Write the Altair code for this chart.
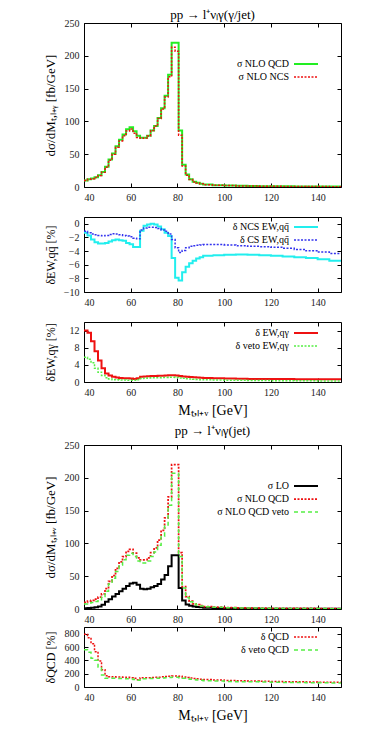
import altair as alt
import pandas as pd

SERIF = "Liberation Serif"

# bin edges in GeV (M_T)
edges = [40, 41.5, 43, 44.5, 46, 47.5, 49, 50.5, 52, 53.5, 55, 56.5, 58, 59.5, 61, 62.5,
         64, 65.5, 67, 68.5, 70, 71.5, 73, 74.5, 76, 77.5, 79, 80.5, 82, 83.5, 85, 86.5,
         88, 89.5, 91, 95, 100, 105, 110, 115, 120, 125, 130, 135, 140, 145, 150]

# panel 1 / panel 4 : cross sections [fb/GeV]
nlo_qcd = [10, 12, 13, 15, 18, 23, 31, 42, 51, 62, 72, 80, 88, 91, 85, 78, 75, 75, 78, 86,
           93, 105, 120, 139, 171, 220, 220, 86, 34, 19, 12, 8, 6.5, 5, 3.8, 2.8, 2.2, 1.8,
           1.5, 1.3, 1.1, 1.0, 0.9, 0.8, 0.7, 0.6]
nlo_ncs = [9.9, 11.8, 12.7, 14.6, 17.5, 22.3, 30.1, 40.9, 49.8, 60.6, 70.3, 78.0, 85.5, 88.3,
           82.1, 75.3, 74.3, 74.8, 77.9, 86.0, 92.9, 104.6, 119.0, 137.2, 167.9, 213, 207, 79,
           32, 18, 11.3, 7.6, 6.2, 4.8, 3.6, 2.7, 2.1, 1.7, 1.4, 1.2, 1.05, 0.95, 0.85, 0.76,
           0.66, 0.57]
lo = [1.1, 1.5, 1.8, 2.5, 3.8, 6.5, 11, 15, 19, 23, 27, 31, 35, 39, 40, 37, 31, 30, 31, 33,
      35, 38, 45, 52, 65, 82, 82, 32, 13, 7, 5, 3.8, 3.2, 2.6, 2.0, 1.4, 1.0, 0.8, 0.6, 0.5,
      0.4, 0.35, 0.3, 0.25, 0.2, 0.2]
nlo_qcd_veto = [7.5, 9, 10, 11.5, 14, 19, 27, 38, 47, 57, 67, 75, 82, 85, 80, 73, 70, 70, 73,
                80, 87, 97, 111, 128, 158, 207, 207, 80, 32, 17.5, 11, 7.5, 6, 4.6, 3.5, 2.6,
                2.0, 1.6, 1.35, 1.15, 1.0, 0.9, 0.8, 0.7, 0.62, 0.55]

# panel 2 : delta_EW,qqbar [%]
d_ncs = [-1.3, -1.7, -2.3, -2.7, -2.9, -2.9, -2.8, -2.6, -2.4, -2.3, -2.4, -2.5, -2.8, -3.0,
         -3.4, -3.4, -1.0, -0.3, -0.1, 0.0, -0.1, -0.4, -0.8, -1.3, -1.8, -5.0, -7.9, -8.3,
         -7.1, -6.3, -5.8, -5.4, -5.1, -4.9, -4.7, -4.6, -4.55, -4.5, -4.55, -4.6, -4.7, -4.8,
         -4.9, -5.0, -5.2, -5.4]
d_cs = [-1.1, -1.3, -1.5, -1.6, -1.7, -1.75, -1.7, -1.55, -1.45, -1.5, -1.6, -1.7, -1.8, -1.9,
        -2.1, -2.2, -0.9, -0.6, -0.5, -0.5, -0.55, -0.7, -0.9, -1.1, -1.5, -2.3, -3.5, -4.2,
        -3.9, -3.5, -3.3, -3.2, -3.15, -3.1, -3.05, -3.05, -3.1, -3.2, -3.3, -3.35, -3.45,
        -3.6, -3.75, -3.95, -4.15, -4.35]

# panel 3 : delta_EW,q gamma [%]
d_qg = [12.0, 11.5, 9.5, 7.2, 5.0, 3.2, 2.0, 1.5, 1.2, 1.05, 0.95, 0.9, 0.85, 0.8, 0.7, 0.9,
        1.2, 1.3, 1.35, 1.4, 1.4, 1.45, 1.45, 1.5, 1.55, 1.55, 1.5, 1.4, 1.3, 1.2, 1.15, 1.1,
        1.05, 1.0, 0.95, 0.85, 0.8, 0.75, 0.72, 0.7, 0.7, 0.68, 0.67, 0.66, 0.65, 0.65]
d_qg_veto = [5.8, 5.3, 4.5, 3.2, 2.3, 1.5, 1.0, 0.7, 0.55, 0.5, 0.45, 0.45, 0.4, 0.4, 0.4,
             0.55, 0.8, 0.9, 0.95, 1.0, 1.0, 1.0, 1.05, 1.05, 1.1, 1.1, 1.05, 0.95, 0.85,
             0.75, 0.7, 0.65, 0.6, 0.55, 0.5, 0.45, 0.4, 0.38, 0.35, 0.33, 0.3, 0.3, 0.28,
             0.27, 0.26, 0.25]

# panel 5 : delta_QCD [%]
d_qcd = [790, 740, 650, 530, 390, 260, 170, 155, 152, 150, 150, 148, 145, 140, 130, 110, 140,
         140, 140, 142, 145, 148, 152, 157, 162, 165, 165, 160, 150, 142, 135, 128, 122, 118,
         112, 105, 98, 93, 89, 86, 83, 80, 77, 75, 72, 70]
d_qcd_veto = [560, 520, 430, 400, 300, 180, 130, 130, 130, 128, 127, 125, 123, 120, 112, 100,
              125, 125, 126, 128, 130, 133, 136, 140, 144, 147, 147, 140, 130, 122, 115, 110,
              105, 100, 95, 90, 84, 80, 77, 74, 72, 69, 67, 65, 62, 60]

x_ticks = [40, 60, 80, 100, 120, 140]
title_top = "pp → l⁺νₗγ(γ/jet)"
title_bottom = "pp → l⁺νₗγ(jet)"
x_title = "Mₜ,ₗ₊ᵥ [GeV]"


def make_df(series_list):
    rows = []
    for name, vals in series_list:
        for i, v in enumerate(vals):
            rows.append({"x": edges[i], "y": v, "series": name})
        rows.append({"x": edges[-1], "y": vals[-1], "series": name})
    return pd.DataFrame(rows)


def panel(series_list, colors, dashes, widths, ydom, yticks, ytitle, height,
          legend_y, ytitle_size=13, xtitle=None, title=None, title_offset=-4):
    df = make_df(series_list)
    names = [s[0] for s in series_list]
    xscale = alt.Scale(domain=[40, 150], nice=False, zero=False)
    yscale = alt.Scale(domain=ydom, nice=False, zero=False)
    xk = dict(values=x_ticks, offset=-4, tickSize=4, domain=False, labelPadding=5,
              grid=False, labelFont=SERIF, labelFontSize=10, labelColor="#222",
              tickColor="black")
    if xtitle:
        xaxis = alt.Axis(title=xtitle, titlePadding=6, titleFont=SERIF, titleFontSize=14,
                         titleFontWeight="normal", titleColor="black", **xk)
    else:
        xaxis = alt.Axis(title=None, **xk)
    yaxis = alt.Axis(values=yticks, offset=-4, tickSize=4, domain=False, labelPadding=5,
                     grid=False, labelFont=SERIF, labelFontSize=10, labelColor="#222",
                     tickColor="black", minExtent=30, maxExtent=30, title=ytitle,
                     titlePadding=1, titleFont=SERIF, titleFontSize=ytitle_size,
                     titleFontWeight="normal", titleColor="black")
    # gnuplot-like key: label on the left, line sample drawn to its right
    leg = alt.Legend(title=None, orient="none", legendX=191, legendY=legend_y,
                     symbolType="M2,0H6", symbolSize=144, labelOffset=0,
                     labelAlign="right", labelFont=SERIF, labelFontSize=10,
                     labelColor="black", rowPadding=1)
    main = alt.Chart(df).mark_line(interpolate="step-after", clip=True).encode(
        x=alt.X("x:Q", scale=xscale, axis=xaxis),
        y=alt.Y("y:Q", scale=yscale, axis=yaxis),
        color=alt.Color("series:N", scale=alt.Scale(domain=names, range=colors), legend=leg),
        strokeDash=alt.StrokeDash("series:N", scale=alt.Scale(domain=names, range=dashes),
                                  legend=leg),
        strokeWidth=alt.StrokeWidth("series:N", scale=alt.Scale(domain=names, range=widths),
                                    legend=leg),
    )
    # mirrored inward ticks on the top and right frame
    mirror = alt.Chart(df).mark_line(opacity=0, clip=True).encode(
        x=alt.X("x:Q", scale=xscale,
                axis=alt.Axis(orient="top", values=x_ticks, labels=False, offset=-4,
                              tickSize=4, domain=False, grid=False, title=None,
                              tickColor="black", minExtent=0, maxExtent=0)),
        y=alt.Y("y:Q", scale=yscale,
                axis=alt.Axis(orient="right", values=yticks, labels=False, offset=-4,
                              tickSize=4, domain=False, grid=False, title=None,
                              tickColor="black", minExtent=0, maxExtent=0)),
        detail="series:N",
    )
    ch = alt.layer(main, mirror).resolve_axis(x="independent", y="independent").properties(
        width=257, height=height)
    if title:
        ch = ch.properties(title=alt.TitleParams(title, font=SERIF, fontSize=13,
                                                 fontWeight="normal", frame="group",
                                                 offset=title_offset, color="black"))
    return ch


GREEN = "#22ee22"
RED = "#ee1111"
CYAN = "#22eeee"
BLUE = "#3333ee"
LGREEN = "#55ee44"
SOLID = [1, 0]
DOT = [2, 1.5]
DASH = [4, 3]

p1 = panel([("σ NLO QCD", nlo_qcd), ("σ NLO NCS", nlo_ncs)],
           [GREEN, RED], [SOLID, DOT], [2, 1.5],
           [0, 250], [0, 50, 100, 150, 200, 250], "dσ/dMₜ,ₗ₊ᵧ [fb/GeV]", 164,
           34, title=title_top, title_offset=-4)
p2 = panel([("δ NCS EW,qq̄", d_ncs), ("δ CS EW,qq̄", d_cs)],
           [CYAN, BLUE], [SOLID, DOT], [2, 1.5],
           [-10, 1], [-10, -8, -6, -4, -2, 0], "δEW,qq̄ [%]", 75, 3, ytitle_size=12)
p3 = panel([("δ EW,qγ", d_qg), ("δ veto EW,qγ", d_qg_veto)],
           [RED, LGREEN], [SOLID, DOT], [2, 1.5],
           [0, 14], [0, 4, 8, 12], "δEW,qγ [%]", 60, 4, ytitle_size=12, xtitle=x_title)
p4 = panel([("σ LO", lo), ("σ NLO QCD", nlo_qcd), ("σ NLO QCD veto", nlo_qcd_veto)],
           ["black", RED, LGREEN], [SOLID, DOT, DASH], [2, 1.5, 1.5],
           [0, 250], [0, 50, 100, 150, 200, 250], "dσ/dMₜ,ₗ₊ᵥ [fb/GeV]", 164,
           34, title=title_bottom, title_offset=2)
p5 = panel([("δ QCD", d_qcd), ("δ veto QCD", d_qcd_veto)],
           [RED, LGREEN], [DOT, DASH], [1.5, 1.5],
           [0, 900], [0, 200, 400, 600, 800], "δQCD [%]", 60, 3, ytitle_size=12,
           xtitle=x_title)

ind = dict(color="independent", strokeDash="independent", strokeWidth="independent",
           x="independent", y="independent")
groupA = alt.vconcat(p1, p2, p3, spacing=13).resolve_scale(**ind)
groupB = alt.vconcat(p4, p5, spacing=1).resolve_scale(**ind)
chart = alt.vconcat(groupA, groupB, spacing=6).resolve_scale(**ind).properties(
    padding={"left": 35, "top": 0, "right": 5, "bottom": 0}
).configure_view(stroke="black", strokeWidth=1)

chart.save("out.html", embed_options={"renderer": "svg", "actions": False})
